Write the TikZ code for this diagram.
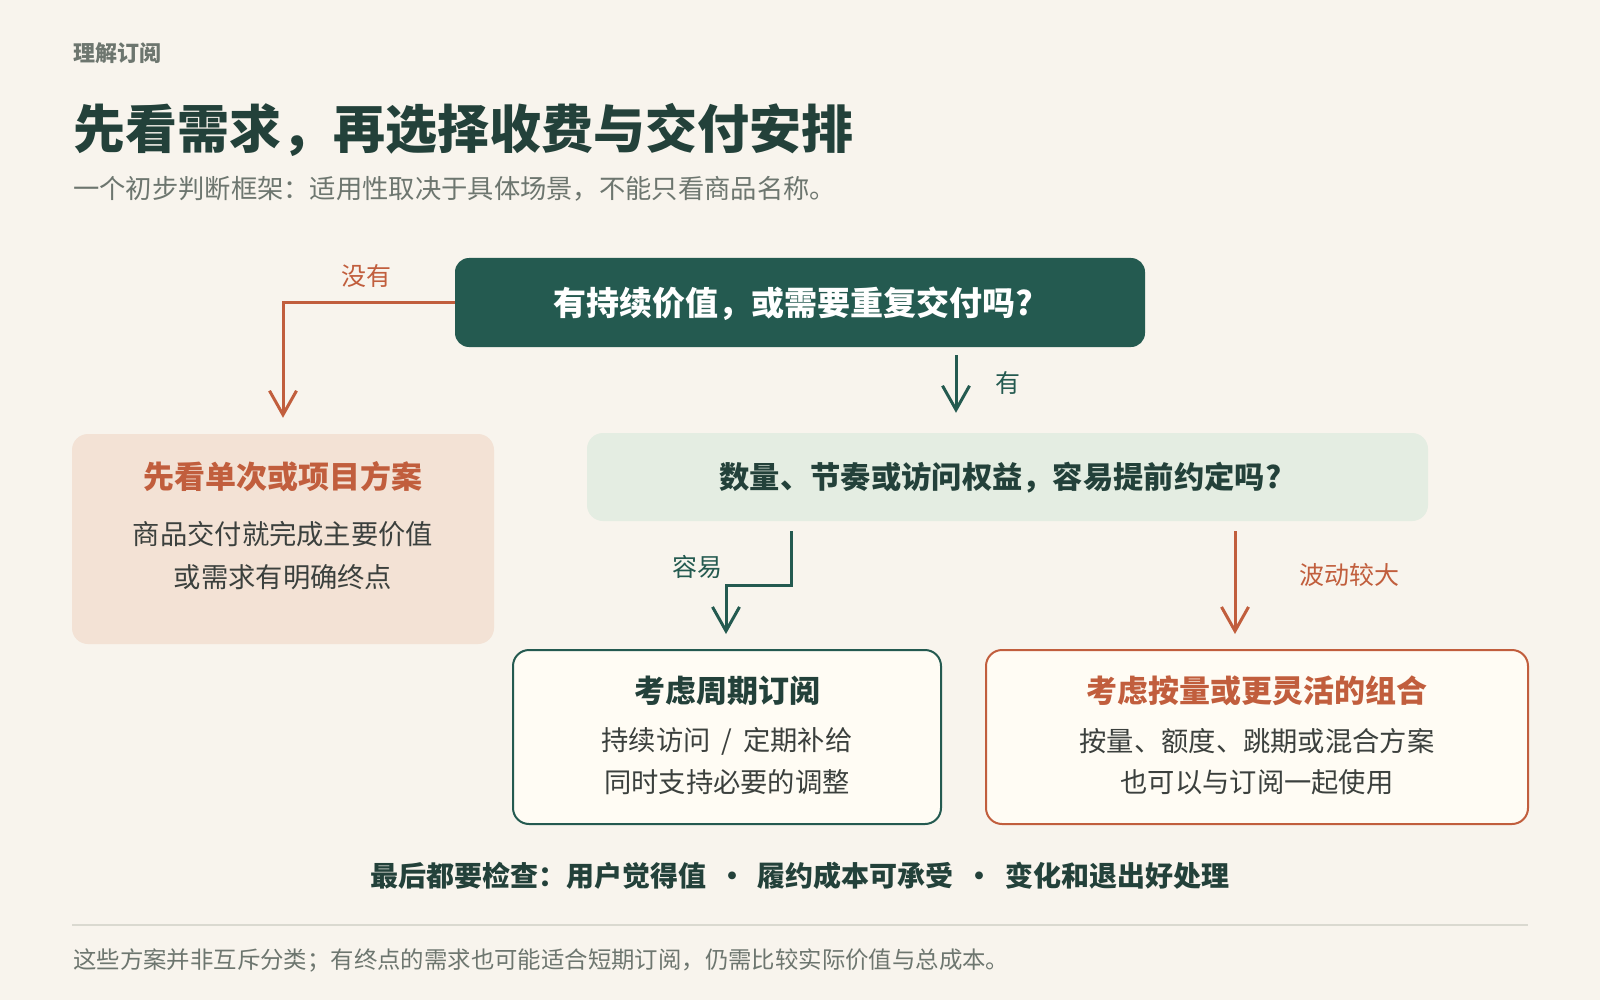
\documentclass[tikz,border=0pt]{standalone}
\usepackage{fontspec}
\setmainfont{Noto Sans CJK SC}
\usetikzlibrary{arrows.meta,calc}
\definecolor{bg}{HTML}{F8F4ED}
\definecolor{dkgreen}{HTML}{245A50}
\definecolor{ink}{HTML}{23413A}
\definecolor{rust}{HTML}{C15E3D}
\definecolor{peach}{HTML}{F3E2D5}
\definecolor{mint}{HTML}{E4EDE2}
\definecolor{card}{HTML}{FFFCF4}
\definecolor{muted}{HTML}{6D766F}
\definecolor{body}{HTML}{3B403D}
\definecolor{rule}{HTML}{DAD9D0}
\newcommand{\fs}[1]{\fontsize{#1}{#1}\selectfont}
\begin{document}
\begin{tikzpicture}[x=1pt,y=-1pt,
  txt/.style={inner sep=0pt, anchor=center},
  boxbase/.style={inner sep=0pt, rounded corners=14pt},
  garr/.style={draw=dkgreen, line width=3pt, -{Straight Barb[length=24pt,width=27pt,line width=3pt]}},
  rarr/.style={draw=rust, line width=3pt, -{Straight Barb[length=24pt,width=27pt,line width=3pt]}},
  lbl/.style={inner sep=0pt, anchor=center, font=\fs{25}}
]
\fill[bg] (0,0) rectangle (1600,1000);
\useasboundingbox (0,0) rectangle (1600,1000);

% header
\node[inner sep=0pt, anchor=west, text=muted, font=\bfseries\fs{22}] (kicker) at (73,53) {理解订阅};
\node[inner sep=0pt, anchor=west, text=ink, font=\bfseries\fs{52}] (title) at (73,130) {先看需求，再选择收费与交付安排};
\node[inner sep=0pt, anchor=west, text=muted, font=\fs{26.3}] (sub) at (73,189) {一个初步判断框架：适用性取决于具体场景，不能只看商品名称。};

% boxes
\node[boxbase, fill=dkgreen, minimum width=690pt, minimum height=89pt] (top) at (800,302.5) {};
\node[txt, text=white, font=\bfseries\fs{33}] (toptxt) at ($(top.center)+(-7,1)$) {有持续价值，或需要重复交付吗?};

\node[boxbase, rounded corners=16pt, fill=peach, minimum width=422pt, minimum height=210pt] (left) at (283,539) {};
\node[txt, text=rust, font=\bfseries\fs{31}] (lefttitle) at ($(left.north)+(0,43)$) {先看单次或项目方案};
\node[txt, text=body, font=\fs{27.3}] (leftl1) at ($(left.north)+(0,100)$) {商品交付就完成主要价值};
\node[txt, text=body, font=\fs{27.3}] (leftl2) at ($(left.north)+(0,143)$) {或需求有明确终点};

\node[boxbase, rounded corners=16pt, fill=mint, minimum width=841pt, minimum height=88pt] (mid) at (1007.5,477) {};
\node[txt, text=ink, font=\bfseries\fs{30.3}] (midtxt) at ($(mid.center)+(-7,1)$) {数量、节奏或访问权益，容易提前约定吗?};

\node[boxbase, rounded corners=16pt, fill=card, draw=dkgreen, line width=2pt, minimum width=428pt, minimum height=174pt] (sub1) at (727,737) {};
\node[txt, text=ink, font=\bfseries\fs{31}] (sub1t) at ($(sub1.north)+(0,42)$) {考虑周期订阅};
\node[txt, text=body, font=\fs{27.3}] (sub1a) at ($(sub1.north)+(0,92)$) {持续访问\hspace{0.4em}/\hspace{0.4em}定期补给};
\node[txt, text=body, font=\fs{27.3}] (sub1b) at ($(sub1.north)+(0,133)$) {同时支持必要的调整};

\node[boxbase, rounded corners=16pt, fill=card, draw=rust, line width=2pt, minimum width=542pt, minimum height=174pt] (sub2) at (1257,737) {};
\node[txt, text=rust, font=\bfseries\fs{31}] (sub2t) at ($(sub2.north)+(0,42)$) {考虑按量或更灵活的组合};
\node[txt, text=body, font=\fs{27.3}] (sub2a) at ($(sub2.north)+(0,92)$) {按量、额度、跳期或混合方案};
\node[txt, text=body, font=\fs{27.3}] (sub2b) at ($(sub2.north)+(0,133)$) {也可以与订阅一起使用};

% connectors
\draw[rarr, shorten >=16pt] (top.west) -| (left.north);
\node[lbl, text=rust] (nolbl) at (366,276) {没有};

\coordinate (yesx) at (956,0);
\draw[garr, shorten <=8pt, shorten >=20pt] (top.south -| yesx) -- (mid.north -| yesx);
\node[lbl, text=dkgreen] (yeslbl) at (1008,383) {有};

\coordinate (easyx) at (791,0);
\coordinate (easyy) at (0,585);
\coordinate (easyx2) at (726,0);
\draw[garr, shorten <=10pt, shorten >=15pt] (mid.south -| easyx) -- (easyx |- easyy) -- (easyx2 |- easyy) -- (sub1.north -| easyx2);
\node[lbl, text=dkgreen] (easylbl) at (697,567) {容易};

\coordinate (varx) at (1235,0);
\draw[rarr, shorten <=10pt, shorten >=15pt] (mid.south -| varx) -- (sub2.north -| varx);
\node[lbl, text=rust] (varlbl) at (1349,575) {波动较大};

% bottom
\node[txt, text=ink, font=\bfseries\fs{28}] (check) at (800,876) {最后都要检查：用户觉得值\hspace{0.42em}·\hspace{0.42em}履约成本可承受\hspace{0.42em}·\hspace{0.42em}变化和退出好处理};
\coordinate (rulel) at (72,925);
\coordinate (ruler) at (1528,925);
\draw[rule, line width=2pt] (rulel) -- (ruler);
\node[inner sep=0pt, anchor=west, text=muted, font=\fs{23.4}] (foot) at (73,960) {这些方案并非互斥分类；有终点的需求也可能适合短期订阅，仍需比较实际价值与总成本。};
\end{tikzpicture}
\end{document}
